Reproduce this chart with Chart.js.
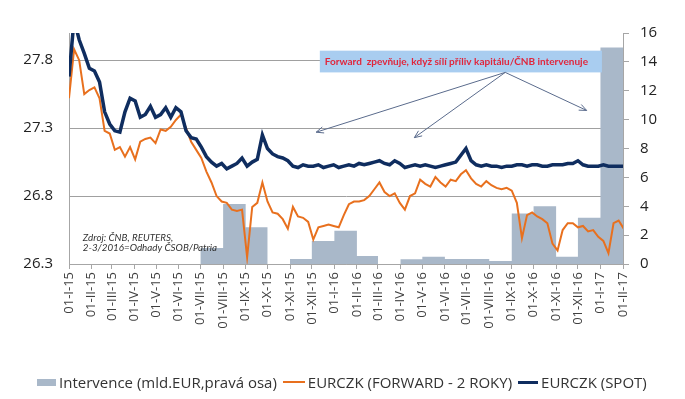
<!DOCTYPE html>
<html>
<head>
<meta charset="utf-8">
<script src="https://cdn.jsdelivr.net/npm/chart.js@4.4.1/dist/chart.umd.min.js"></script>
<style>
  html, body { margin: 0; padding: 0; background: #fff; }
  #wrap { position: relative; width: 685px; height: 399px; }
  #legendList { position: absolute; left: 37px; top: 372px; margin: 0; padding: 0; list-style: none;
    display: flex; align-items: center; font: 15px "Open Sans", Lato, sans-serif; color: #333; white-space: nowrap; }
  #legendList li { display: flex; align-items: center; margin-right: 6px; }
</style>
</head>
<body>
<div id="wrap">
  <canvas id="eurczkChart" width="685" height="399"></canvas>
  <ul id="legendList"></ul>
</div>
<script>
// týdenní hodnoty od 1.1.2015 (krok 7 dní)
const startDate = Date.UTC(2015, 0, 1);
const spotWeekly = [
  27.68, 28.1, 27.95, 27.85, 27.74, 27.72, 27.64, 27.42, 27.33, 27.28,
  27.27, 27.42, 27.52, 27.5, 27.38, 27.4, 27.46, 27.38, 27.4, 27.45,
  27.38, 27.45, 27.42, 27.28, 27.23, 27.22, 27.16, 27.09, 27.05, 27.02,
  27.04, 27.0, 27.02, 27.04, 27.08, 27.02, 27.05, 27.07, 27.25, 27.15,
  27.11, 27.09, 27.08, 27.06, 27.02, 27.01, 27.03, 27.02, 27.02, 27.03,
  27.01, 27.02, 27.03, 27.01, 27.02, 27.03, 27.02, 27.04, 27.03, 27.04,
  27.05, 27.06, 27.04, 27.03, 27.06, 27.04, 27.01, 27.02, 27.03, 27.02,
  27.03, 27.02, 27.01, 27.02, 27.03, 27.04, 27.05, 27.1, 27.15, 27.06,
  27.03, 27.02, 27.03, 27.02, 27.02, 27.01, 27.02, 27.02, 27.03, 27.03,
  27.02, 27.03, 27.03, 27.02, 27.02, 27.03, 27.03, 27.03, 27.04, 27.04,
  27.06, 27.03, 27.02, 27.02, 27.02, 27.03, 27.02, 27.02, 27.02, 27.02
];
const forwardWeekly = [
  27.52, 27.88, 27.8, 27.55, 27.58, 27.6, 27.52, 27.28, 27.26, 27.14,
  27.16, 27.09, 27.16, 27.07, 27.2, 27.22, 27.23, 27.19, 27.29, 27.28,
  27.31, 27.36, 27.4, 27.3, 27.2, 27.14, 27.08, 26.98, 26.9, 26.8,
  26.76, 26.75, 26.7, 26.69, 26.7, 26.35, 26.72, 26.75, 26.9, 26.76,
  26.68, 26.67, 26.63, 26.56, 26.72, 26.65, 26.64, 26.61, 26.48, 26.57,
  26.58, 26.59, 26.58, 26.57, 26.66, 26.74, 26.76, 26.76, 26.77, 26.8,
  26.85, 26.9, 26.83, 26.8, 26.82, 26.75, 26.7, 26.8, 26.82, 26.92,
  26.89, 26.87, 26.94, 26.9, 26.87, 26.92, 26.91, 26.96, 26.99, 26.93,
  26.89, 26.87, 26.91, 26.88, 26.86, 26.85, 26.86, 26.84, 26.75, 26.49,
  26.66, 26.68, 26.65, 26.63, 26.6, 26.45, 26.4, 26.55, 26.6, 26.6,
  26.57, 26.58, 26.54, 26.55, 26.5, 26.47, 26.38, 26.6, 26.62, 26.56
];
// měsíční intervence ČNB (mld. EUR), 01/2015 - 01/2017
const interventionMonths = [
  '2015-01', '2015-02', '2015-03', '2015-04', '2015-05', '2015-06', '2015-07', '2015-08', '2015-09', '2015-10', '2015-11', '2015-12',
  '2016-01', '2016-02', '2016-03', '2016-04', '2016-05', '2016-06', '2016-07', '2016-08', '2016-09', '2016-10', '2016-11', '2016-12',
  '2017-01'
];
const interventionValues = [
  0, 0, 0, 0, 0, 0, 1.1, 4.15, 2.55, 0, 0.35, 1.6,
  2.3, 0.55, 0, 0.33, 0.5, 0.35, 0.35, 0.2, 3.5, 4.0, 0.5, 3.2,
  15.0
];
const leftTicks = [26.3, 26.8, 27.3, 27.8];
const romanMonths = ['I', 'II', 'III', 'IV', 'V', 'VI', 'VII', 'VIII', 'IX', 'X', 'XI', 'XII'];

const dayMs = 86400000;
function dayOf(year, month) {
    return (Date.UTC(year, month, 1) - startDate) / dayMs;
}

// osa x: 1. den každého měsíce
const monthTicks = [];
const monthLabels = [];
for (let k = 0; k <= 25; k++) {
    const y = 2015 + Math.floor(k / 12);
    const m = k % 12;
    monthTicks.push(dayOf(y, m));
    monthLabels.push(`01-${romanMonths[m]}-${String(y).slice(2)}`);
}
const lastDay = monthTicks[monthTicks.length - 1];

const spotData = spotWeekly.map((v, i) => ({ x: i * 7, y: v }));
const forwardData = forwardWeekly.map((v, i) => ({ x: i * 7, y: v }));
const interventionData = interventionMonths.map((s, i) => {
    const [y, m] = s.split('-').map(Number);
    return { x: dayOf(y, m - 1), y: interventionValues[i] };
});
interventionData.push({ x: lastDay, y: interventionValues[interventionValues.length - 1] });

const fontFamily = '"Open Sans", Lato, sans-serif';
const noteFont = 'Lato, "Open Sans", sans-serif';
const axisColor = '#a6a6a6';

// popisky v grafu (souřadnice v jednotkách os)
const noteBox = { x0: 345, x1: 733, y0: 27.87, y1: 27.71, text: 'Forward  zpevňuje, když sílí příliv kapitálu/ČNB intervenuje' };
const noteArrows = { from: [600, 27.71], to: [[340, 27.27], [475, 27.23], [712, 27.43]] };
const sourceNote = { x: 19, lines: [['Zdroj: ČNB, REUTERS,', 26.49], ['2-3/2016=Odhady ČSOB/Patria', 26.42]] };

const notesPlugin = {
    id: 'notes',
    afterDatasetsDraw(chart) {
        const ctx = chart.ctx;
        const xs = chart.scales.x;
        const ys = chart.scales.y;
        ctx.save();
        // modrý rámeček
        const bx = xs.getPixelForValue(noteBox.x0);
        const by = ys.getPixelForValue(noteBox.y0);
        const bw = xs.getPixelForValue(noteBox.x1) - bx;
        const bh = ys.getPixelForValue(noteBox.y1) - by;
        ctx.fillStyle = '#a9cdf0';
        ctx.fillRect(bx, by, bw, bh);
        ctx.fillStyle = '#e0263c';
        ctx.font = `bold 10px ${noteFont}`;
        ctx.textBaseline = 'middle';
        ctx.textAlign = 'left';
        ctx.fillText(noteBox.text, bx + 5, by + bh / 2);

        // šipky
        ctx.strokeStyle = '#5a6b8c';
        ctx.lineWidth = 1;
        const fx = xs.getPixelForValue(noteArrows.from[0]);
        const fy = ys.getPixelForValue(noteArrows.from[1]);
        noteArrows.to.forEach(t => {
            const tx = xs.getPixelForValue(t[0]);
            const ty = ys.getPixelForValue(t[1]);
            const ang = Math.atan2(ty - fy, tx - fx);
            ctx.beginPath();
            ctx.moveTo(fx, fy);
            ctx.lineTo(tx, ty);
            ctx.moveTo(tx - 8 * Math.cos(ang - 0.4), ty - 8 * Math.sin(ang - 0.4));
            ctx.lineTo(tx, ty);
            ctx.lineTo(tx - 8 * Math.cos(ang + 0.4), ty - 8 * Math.sin(ang + 0.4));
            ctx.stroke();
        });

        // zdroj
        ctx.fillStyle = '#333';
        ctx.font = `italic 9.8px ${noteFont}`;
        sourceNote.lines.forEach(l => {
            ctx.fillText(l[0], xs.getPixelForValue(sourceNote.x), ys.getPixelForValue(l[1]));
        });
        ctx.restore();
    }
};

const ctx = document.getElementById('eurczkChart');
const config = {
    type: 'line',
    data: {
        datasets: [{
            label: 'EURCZK (SPOT)',
            data: spotData,
            yAxisID: 'y',
            borderColor: '#0f2d5f',
            borderWidth: 3.5,
            pointRadius: 0,
            tension: 0,
            order: 1
        }, {
            label: 'EURCZK (FORWARD - 2 ROKY)',
            data: forwardData,
            yAxisID: 'y',
            borderColor: '#e8701e',
            borderWidth: 2,
            pointRadius: 0,
            tension: 0,
            order: 2
        }, {
            label: 'Intervence (mld.EUR,pravá osa)',
            data: interventionData,
            yAxisID: 'y1',
            stepped: true,
            fill: 'origin',
            backgroundColor: '#a9b8c9',
            borderWidth: 0,
            pointRadius: 0,
            order: 3
        }]
    },
    options: {
        responsive: false,
        animation: false,
        layout: { padding: { top: 33 } },
        plugins: {
            legend: { display: false },
            tooltip: { enabled: false }
        },
        scales: {
            x: {
                type: 'linear',
                min: 0,
                max: lastDay,
                afterBuildTicks: axis => { axis.ticks = monthTicks.map(v => ({ value: v })); },
                afterFit: axis => { axis.height = 135; },
                ticks: {
                    autoSkip: false,
                    minRotation: 90,
                    maxRotation: 90,
                    padding: 3,
                    color: '#404040',
                    font: { family: fontFamily, size: 13 },
                    callback: (v, i) => monthLabels[i]
                },
                grid: { drawOnChartArea: false, tickLength: 5, color: axisColor },
                border: { color: axisColor }
            },
            y: {
                position: 'left',
                min: 26.3,
                max: 28.0,
                z: 1,
                afterBuildTicks: axis => { axis.ticks = leftTicks.map(v => ({ value: v })); },
                afterFit: axis => { axis.width = 69; },
                ticks: {
                    padding: 16,
                    color: '#222',
                    font: { family: fontFamily, size: 15 },
                    callback: v => v.toFixed(1)
                },
                grid: { color: '#a0a0a0', drawTicks: false },
                border: { color: axisColor }
            },
            y1: {
                position: 'right',
                min: 0,
                max: 16,
                afterFit: axis => { axis.width = 62; },
                ticks: {
                    stepSize: 2,
                    padding: 11,
                    color: '#222',
                    font: { family: fontFamily, size: 15 }
                },
                grid: { drawOnChartArea: false, tickLength: 6, color: axisColor },
                border: { color: axisColor }
            }
        }
    },
    plugins: [notesPlugin]
};
const myChart = new Chart(ctx, config);

// legenda
const legendItems = [
    { text: 'Intervence (mld.EUR,pravá osa)', color: '#a9b8c9', w: 19, h: 7 },
    { text: 'EURCZK (FORWARD - 2 ROKY)', color: '#e8701e', w: 22, h: 2 },
    { text: 'EURCZK (SPOT)', color: '#0f2d5f', w: 20, h: 3 }
];
const legendList = document.getElementById('legendList');
legendItems.forEach(item => {
    const li = document.createElement('li');
    li.innerHTML = `<span style="display:inline-block;width:${item.w}px;height:${item.h}px;background:${item.color};margin-right:3px"></span><span>${item.text}</span>`;
    legendList.appendChild(li);
});
</script>
</body>
</html>
